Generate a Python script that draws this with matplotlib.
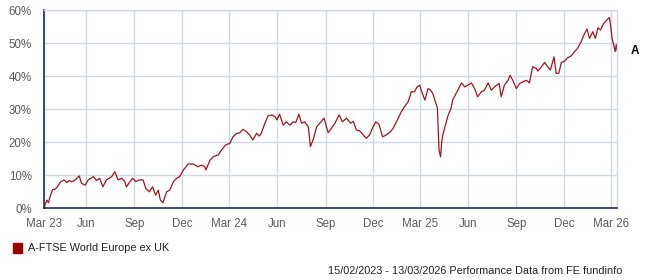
import pandas as pd
import matplotlib
matplotlib.use("Agg")
import matplotlib.pyplot as plt

# cumulative performance, %
dates = [
    "2023-03-13", "2023-03-18", "2023-03-21", "2023-03-24", "2023-03-29", "2023-04-02", "2023-04-07",
    "2023-04-13", "2023-04-20", "2023-04-25", "2023-04-30", "2023-05-05", "2023-05-11", "2023-05-19",
    "2023-05-23", "2023-05-30", "2023-06-05", "2023-06-15", "2023-06-21", "2023-06-27", "2023-07-03",
    "2023-07-10", "2023-07-20", "2023-07-26", "2023-08-01", "2023-08-08", "2023-08-14", "2023-08-17",
    "2023-08-24", "2023-08-29", "2023-09-04", "2023-09-11", "2023-09-18", "2023-09-23", "2023-09-30",
    "2023-10-06", "2023-10-12", "2023-10-17", "2023-10-21", "2023-10-26", "2023-11-02", "2023-11-08",
    "2023-11-15", "2023-11-21", "2023-11-27", "2023-12-04", "2023-12-13", "2023-12-23", "2024-01-01",
    "2024-01-08", "2024-01-14", "2024-01-16", "2024-01-24", "2024-01-30", "2024-02-09", "2024-02-15",
    "2024-02-23", "2024-03-02", "2024-03-08", "2024-03-15", "2024-03-21", "2024-03-27", "2024-04-03",
    "2024-04-09", "2024-04-15", "2024-04-22", "2024-04-27", "2024-05-01", "2024-05-08", "2024-05-14",
    "2024-05-21", "2024-05-27", "2024-05-31", "2024-06-05", "2024-06-12", "2024-06-18", "2024-06-25",
    "2024-07-01", "2024-07-06", "2024-07-12", "2024-07-17", "2024-07-23", "2024-07-30", "2024-08-03",
    "2024-08-08", "2024-08-15", "2024-08-21", "2024-08-29", "2024-09-06", "2024-09-12", "2024-09-19",
    "2024-09-27", "2024-10-03", "2024-10-11", "2024-10-19", "2024-10-24", "2024-10-30", "2024-11-05",
    "2024-11-12", "2024-11-18", "2024-11-24", "2024-12-01", "2024-12-06", "2024-12-12", "2024-12-19",
    "2024-12-26", "2025-01-03", "2025-01-08", "2025-01-18", "2025-01-24", "2025-01-30", "2025-02-06",
    "2025-02-12", "2025-02-18", "2025-02-23", "2025-02-28", "2025-03-05", "2025-03-10", "2025-03-16",
    "2025-03-21", "2025-03-25", "2025-03-31", "2025-04-03", "2025-04-06", "2025-04-09", "2025-04-11",
    "2025-04-13", "2025-04-17", "2025-04-23", "2025-04-29", "2025-05-02", "2025-05-12", "2025-05-19",
    "2025-05-25", "2025-05-31", "2025-06-07", "2025-06-13", "2025-06-19", "2025-06-26", "2025-07-02",
    "2025-07-09", "2025-07-15", "2025-07-21", "2025-07-30", "2025-08-03", "2025-08-09", "2025-08-16",
    "2025-08-20", "2025-08-25", "2025-09-01", "2025-09-07", "2025-09-13", "2025-09-20", "2025-09-26",
    "2025-10-02", "2025-10-09", "2025-10-12", "2025-10-19", "2025-10-25", "2025-10-31", "2025-11-05",
    "2025-11-12", "2025-11-16", "2025-11-21", "2025-11-26", "2025-12-02", "2025-12-08", "2025-12-15",
    "2025-12-21", "2025-12-27", "2026-01-03", "2026-01-08", "2026-01-14", "2026-01-19", "2026-01-25",
    "2026-01-30", "2026-02-04", "2026-02-09", "2026-02-13", "2026-02-18", "2026-02-23", "2026-02-26",
    "2026-02-28", "2026-03-03", "2026-03-06", "2026-03-09", "2026-03-11", "2026-03-13",
]
perf = [
    0.5, 2.5, 1.7, 3.5, 5.7, 5.7, 6.5,
    8.0, 8.6, 7.8, 8.4, 8.0, 8.6, 9.8,
    7.6, 7.0, 8.6, 9.6, 8.4, 9.1, 6.5,
    8.6, 9.6, 11.1, 8.6, 9.1, 8.1, 6.5,
    8.1, 9.1, 8.1, 8.6, 8.6, 6.0, 5.0,
    6.5, 4.0, 5.5, 2.5, 1.7, 5.0, 5.5,
    8.1, 9.1, 9.6, 11.6, 13.4, 13.4, 12.6,
    13.1, 12.6, 11.6, 14.6, 15.6, 16.2, 17.7,
    19.2, 19.7, 21.7, 22.7, 22.9, 23.9, 23.2,
    22.2, 20.7, 22.7, 21.9, 22.7, 25.8, 28.0,
    28.3, 27.8, 26.8, 28.5, 25.2, 26.2, 25.2,
    26.2, 26.0, 28.5, 25.8, 26.2, 24.7, 18.7,
    20.7, 24.7, 25.8, 27.3, 22.9, 24.2, 25.8,
    28.3, 26.2, 27.3, 25.8, 26.4, 23.7, 23.5,
    22.2, 21.2, 22.2, 24.7, 26.2, 25.5, 21.7,
    22.2, 23.2, 24.2, 27.3, 29.3, 30.8, 32.3,
    35.3, 35.3, 36.8, 37.3, 34.8, 32.8, 36.3,
    35.8, 34.8, 31.8, 30.3, 17.6, 15.6, 20.0,
    22.0, 24.5, 28.0, 30.3, 32.8, 35.8, 38.0,
    36.8, 37.3, 38.0, 36.3, 33.8, 35.3, 35.8,
    38.0, 35.8, 36.8, 37.8, 33.8, 37.3, 38.8,
    40.3, 38.8, 36.3, 37.8, 38.3, 38.8, 38.0,
    42.9, 42.4, 41.6, 42.9, 44.2, 42.9, 41.9,
    45.9, 40.9, 40.9, 44.2, 44.6, 45.6, 46.2,
    47.4, 48.5, 50.5, 52.5, 54.3, 51.5, 53.5,
    51.5, 54.7, 54.0, 55.5, 56.6, 57.4, 57.8,
    55.5, 51.5, 49.5, 47.5, 49.7, 47.7,
]
tick_dates = ["2023-03-13", "2023-06-01", "2023-09-01", "2023-12-01", "2024-03-01", "2024-06-01",
              "2024-09-01", "2024-12-01", "2025-03-01", "2025-06-01", "2025-09-01", "2025-12-01",
              "2026-03-01"]
tick_labels = ["Mar 23", "Jun", "Sep", "Dec", "Mar 24", "Jun", "Sep", "Dec",
               "Mar 25", "Jun", "Sep", "Dec", "Mar 26"]
series_name = "A-FTSE World Europe ex UK"
series_tag = "A"
footer = "15/02/2023 - 13/03/2026 Performance Data from FE fundinfo"

plt.rcParams['font.family'] = ['Liberation Sans', 'DejaVu Sans']

x = pd.to_datetime(dates)
line_col = '#a3141b'
grid_col = '#cddbe6'
axis_col = '#1a2a7a'
txt_col = '#5a5a5a'

fig = plt.figure(figsize=(6.47, 2.80), dpi=100)
ax = fig.add_axes([44.3 / 647, 1 - 208.3 / 280, 573 / 647, 198 / 280])

ax.plot(x, perf, color=line_col, lw=0.9)

ax.set_xlim(pd.Timestamp("2023-03-13"), pd.Timestamp("2026-03-13"))
ax.set_ylim(0, 60)
ax.set_yticks(range(0, 61, 10))
ax.set_yticklabels([f"{v}%" for v in range(0, 61, 10)])
ax.set_xticks(pd.to_datetime(tick_dates))
ax.set_xticklabels(tick_labels)

ax.grid(True, color=grid_col, lw=1.0)
ax.set_axisbelow(True)
for s in ['top', 'right']:
    ax.spines[s].set_color(grid_col)
    ax.spines[s].set_linewidth(1.0)
for s in ['left', 'bottom']:
    ax.spines[s].set_color(axis_col)
    ax.spines[s].set_linewidth(1.2)
ax.tick_params(length=0, labelsize=8.3, colors=txt_col, pad=7)
ax.tick_params(axis='y', pad=9)

# series tag at the last value
ax.annotate(series_tag, xy=(x[-1], perf[-1]), xytext=(10, 0), textcoords='offset points',
            fontsize=8.5, fontweight='bold', color='black', va='center', ha='left',
            annotation_clip=False)

# legend and footer
fig.patches.append(plt.Rectangle((13 / 647, 1 - 253 / 280), 9 / 647, 10 / 280,
                                 transform=fig.transFigure, color='#990000'))
fig.text(28 / 647, 1 - 248 / 280, series_name, fontsize=7.8, color='#222222', va='center')
fig.text(622 / 647, 1 - 271 / 280, footer, fontsize=7.8, color='#222222', va='center', ha='right')

fig.savefig("out.png", dpi=100)
